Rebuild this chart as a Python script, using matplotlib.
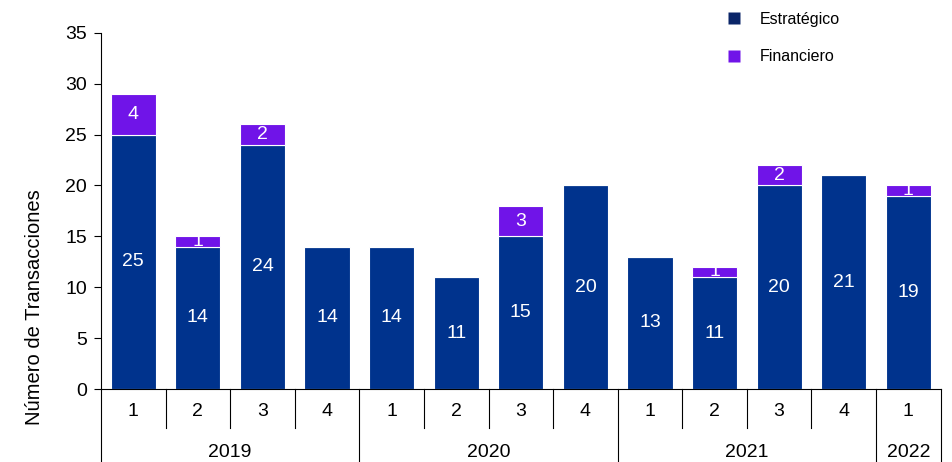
import numpy as np
import matplotlib
matplotlib.use("Agg")
import matplotlib.pyplot as plt
from matplotlib.lines import Line2D
import matplotlib.transforms as mtransforms

plt.rcParams['font.family'] = ['Liberation Sans', 'DejaVu Sans']

quarters = ['1', '2', '3', '4', '1', '2', '3', '4', '1', '2', '3', '4', '1']
years = ['2019', '2020', '2021', '2022']
year_counts = [4, 4, 4, 1]
estrategico = [25, 14, 24, 14, 14, 11, 15, 20, 13, 11, 20, 21, 19]
financiero = [4, 1, 2, 0, 0, 0, 3, 0, 0, 1, 2, 0, 1]

c_est = '#00338d'
c_fin = '#7014e8'

fig = plt.figure(figsize=(9.53, 4.62), dpi=100)
ax = fig.add_axes([0.106, 0.158, 0.881, 0.771])

x = np.arange(len(quarters))
b1 = ax.bar(x, estrategico, width=0.7, color=c_est, edgecolor='white', linewidth=0.8)
b2 = ax.bar(x, financiero, width=0.7, bottom=estrategico, color=c_fin,
            edgecolor='white', linewidth=0.8)

for i in range(len(x)):
    ax.text(x[i], estrategico[i] / 2, str(estrategico[i]), color='white',
            ha='center', va='center', fontsize=14)
    if financiero[i] > 0:
        ax.text(x[i], estrategico[i] + financiero[i] / 2, str(financiero[i]),
                color='white', ha='center', va='center', fontsize=14)

ax.set_xlim(-0.5, len(x) - 0.5)
ax.set_ylim(0, 35)
ax.set_yticks(range(0, 36, 5))
ax.tick_params(axis='y', labelsize=14, direction='out', length=5, pad=5)
ax.set_xticks([])
ax.spines['top'].set_visible(False)
ax.spines['right'].set_visible(False)

ax.set_ylabel('Número de Transacciones', fontsize=14.5)
ax.yaxis.set_label_coords(-0.068, 0.23)

# two level x axis
trans = mtransforms.blended_transform_factory(ax.transData, ax.transAxes)
year_edges = list(np.cumsum([0] + year_counts) - 0.5)
for e in np.arange(-0.5, len(x)):
    low = -0.205 if e in year_edges else -0.11
    ax.plot([e, e], [0, low], color='black', lw=0.8, transform=trans, clip_on=False)
for i, q in enumerate(quarters):
    ax.text(i, -0.062, q, ha='center', va='center', fontsize=14, transform=trans)
for k, yr in enumerate(years):
    mid = (year_edges[k] + year_edges[k + 1]) / 2
    ax.text(mid, -0.178, yr, ha='center', va='center', fontsize=14, transform=trans)

handles = [Line2D([], [], marker='s', color='none', markerfacecolor='#0a2568',
                  markeredgecolor='none', markersize=9),
           Line2D([], [], marker='s', color='none', markerfacecolor=c_fin,
                  markeredgecolor='none', markersize=9)]
fig.legend(handles, ['Estratégico', 'Financiero'], loc='upper left',
           bbox_to_anchor=(0.745, 1.005), frameon=False, fontsize=11.5,
           labelspacing=1.4, handletextpad=1.0, handlelength=1.2)

fig.savefig('out.png', dpi=100)
